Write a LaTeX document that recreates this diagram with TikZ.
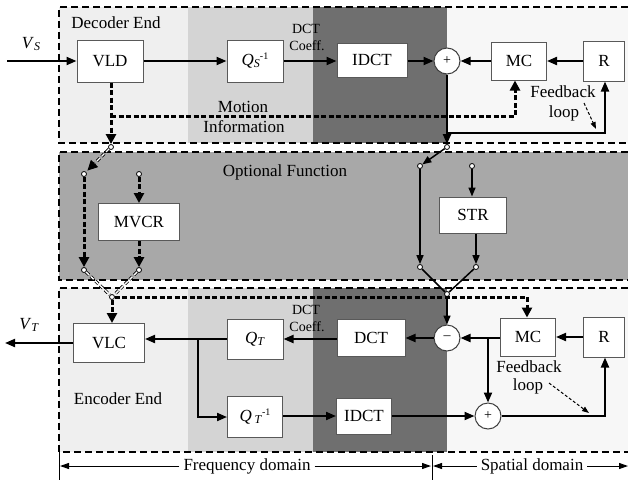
\documentclass[tikz,border=0pt]{standalone}
\usepackage{fontspec}
\setmainfont{Liberation Serif}
\usetikzlibrary{arrows.meta,calc}
\definecolor{cA}{HTML}{EFEFEF}
\definecolor{cB}{HTML}{D4D4D4}
\definecolor{cC}{HTML}{6F6F6F}
\definecolor{cD}{HTML}{F7F7F7}
\definecolor{cM}{HTML}{A8A8A8}
\newcommand{\bigf}{\fontsize{17}{19}\selectfont}
\newcommand{\smf}{\fontsize{12}{12}\selectfont}
\newcommand{\tinyf}{\fontsize{10}{10}\selectfont}
\begin{document}
\begin{tikzpicture}[x=1pt,y=-1pt,
  blk/.style={draw=black!65,fill=white,line width=1pt,inner sep=0pt,font=\bigf},
  sumc/.style={circle,draw=black!75,fill=white,line width=1pt,minimum size=26pt,inner sep=0pt,font=\fontsize{14}{14}\selectfont},
  pt/.style={circle,draw=black,fill=white,line width=0.8pt,minimum size=5pt,inner sep=0pt},
  lbl/.style={font=\bigf,inner sep=0pt},
  slbl/.style={font=\fontsize{14}{14}\selectfont,inner sep=0pt},
  sig/.style={line width=2pt,-{Triangle[length=10pt,width=8pt]}},
  msig/.style={line width=1.5pt,-{Triangle[length=9pt,width=7pt]}},
  msigl/.style={line width=1.5pt},
  mot/.style={line width=3pt,dash pattern=on 5pt off 2.5pt,-{Triangle[length=10pt,width=10pt]}},
  motd/.style={line width=0.8pt,double=white,double distance=1.4pt,dash pattern=on 4pt off 2.5pt},
  mottip/.style={line width=1pt,-{Triangle[length=10pt,width=10pt]},shorten >=2pt},
  boxd/.style={line width=1.5pt,dash pattern=on 7pt off 4pt},
  fbk/.style={line width=1pt,dash pattern=on 3pt off 2pt,-{Triangle[length=7pt,width=5pt]}},
  dom/.style={line width=1pt,-{Triangle[length=9pt,width=6pt]}}
]
\useasboundingbox (0,0) rectangle (628,480);
% backgrounds
\foreach \ya/\yb in {7/143,288/452}{
  \fill[cA] (59,\ya) rectangle (188,\yb);
  \fill[cB] (188,\ya) rectangle (313,\yb);
  \fill[cC] (313,\ya) rectangle (447,\yb);
  \fill[cD] (447,\ya) rectangle (628,\yb);
}
\fill[cM] (59,152) rectangle (628,280);
\draw[boxd] (628,7) -- (59,7) -- (59,143) -- (628,143);
\draw[boxd] (628,152) -- (59,152) -- (59,280) -- (628,280);
\draw[boxd] (628,288) -- (59,288) -- (59,452) -- (628,452);

% labels
\node[lbl] (dec) at (116,23) {Decoder End};
\node[lbl] (opt) at (285,172) {Optional Function};
\node[lbl] (enc) at (118,399) {Encoder End};
\node[lbl] (vs) at (31,44) {\textit{V}\raisebox{-2pt}{\smf\textit{S}}};
\node[lbl] (vt) at (29,325) {\textit{V}\raisebox{-2pt}{\smf\textit{T}}};
\node[slbl] (dc1a) at (306,29) {DCT};
\node[slbl] (dc1b) at (307,46) {Coeff.};
\node[slbl] (dc2a) at (306,310) {DCT};
\node[slbl] (dc2b) at (307,327) {Coeff.};
\node[lbl] (mo1) at (243,107) {Motion};
\node[lbl] (mo2) at (244,127) {Information};
\node[lbl] (fb1) at (563,92) {Feedback};
\node[lbl] (fb2) at (564,113) {loop};
\node[lbl] (fb3) at (529,367) {Feedback};
\node[lbl] (fb4) at (528,386) {loop};

% top row
\node[blk,minimum width=66pt,minimum height=42pt] (vld) at (110,61) {VLD};
\node[blk,minimum width=56pt,minimum height=42pt] (qsi) at (255,61) {\textit{Q}\raisebox{-1.5pt}{\smf\textit{S}}\raisebox{6pt}{\tinyf -1}};
\node[blk,minimum width=70pt,minimum height=34pt] (idct) at (372,60) {IDCT};
\node[sumc] (plus) at (447,61) {+};
\node[blk,minimum width=55pt,minimum height=38pt] (mc) at (519,61) {MC};
\node[blk,minimum width=41pt,minimum height=40pt] (r) at (604,61) {R};
\coordinate (vsin) at (7,61);
\draw[sig] (vsin) -- (vsin -| vld.west);
\draw[sig] (vld.east) -- (vld.east -| qsi.west);
\draw[sig] (qsi.east) -- (qsi.east -| idct.west);
\draw[sig] (idct.east |- plus.west) -- (plus.west);
\draw[sig] (mc.west |- plus.east) -- (plus.east);
\draw[sig] (r.west |- mc.east) -- (mc.east);
\coordinate (fbt) at (605,133);
\node[pt] (r0) at (447,147) {};
\draw[sig] (plus.south) -- (r0.north);
\draw[sig] (plus.south |- fbt) -- (fbt) -- (fbt |- r.south);
\draw[fbk] (584,103) -- (596,129);

% motion info top
\node[pt] (m0) at (111,147) {};
\coordinate (mi) at (515,116);
\draw[mot] (vld.south -| m0) -- (m0.north);
\draw[mot] (m0 |- mi) -- (mi) -- (mi |- mc.south);

% middle
\node[pt] (m1) at (84,174) {};
\node[pt] (m2) at (139,174) {};
\node[pt] (m3) at (84,270) {};
\node[pt] (m4) at (139,270) {};
\node[pt] (m5) at (112,297) {};
\node[blk,minimum width=81pt,minimum height=37pt] (mvcr) at (139,222) {MVCR};
\draw[motd] (m0) -- ($(m1)!9pt!(m0)$);
\draw[mottip] ($(m1)!12pt!(m0)$) -- (m1);
\draw[mot] (m1.south) -- (m3.north);
\draw[mot] (m2.south) -- (mvcr.north);
\draw[mot] (mvcr.south) -- (m4.north);
\draw[motd] (m3) -- (m5);
\draw[motd] (m4) -- (m5);

\node[pt] (r1) at (420,166) {};
\node[pt] (r2) at (472,166) {};
\node[pt] (r3) at (420,267) {};
\node[pt] (r4) at (476,267) {};
\node[pt] (r5) at (447,294) {};
\node[blk,minimum width=67pt,minimum height=36pt] (str) at (473,215) {STR};
\draw[msig] (r0) -- (r1);
\draw[msig] (r1.south) -- (r3.north);
\draw[msig] (r2.south) -- (r2 |- str.north);
\draw[msig] (r4 |- str.south) -- (r4.north);
\draw[msigl] (r3) -- (r5);
\draw[msigl] (r4) -- (r5);

% bottom row
\node[blk,minimum width=71pt,minimum height=39pt] (vlc) at (109,343) {VLC};
\node[blk,minimum width=56pt,minimum height=40pt] (qt) at (255,339) {\textit{Q}\raisebox{-2pt}{\smf\textit{T}}};
\node[blk,minimum width=68pt,minimum height=37pt] (dct) at (371,338) {DCT};
\node[sumc] (minus) at (447,338) {--};
\node[blk,minimum width=55pt,minimum height=38pt] (mc2) at (528,337) {MC};
\node[blk,minimum width=41pt,minimum height=40pt] (r2b) at (604,337) {R};
\node[blk,minimum width=55pt,minimum height=41pt] (qti) at (255,417) {\textit{Q}\,\raisebox{-2pt}{\smf\textit{T}}\raisebox{6pt}{\tinyf -1}};
\node[blk,minimum width=55pt,minimum height=36pt] (idct2) at (364,416) {IDCT};
\node[sumc] (plus2) at (488,416) {+};

\draw[mot] (m5.south) -- (m5 |- vlc.north);
\coordinate (mi2) at (527,297);
\draw[mot] (m5.east) -- (mi2) -- (mi2 |- mc2.north);

\draw[msig] (r5.south) -- (minus.north);
\draw[sig] (r2b.west) -- (r2b.west -| mc2.east);
\draw[sig] (mc2.west |- minus.east) -- (minus.east);
\draw[sig] (minus.east -| plus2) -- (plus2.north);
\draw[sig] (minus.west) -- (minus.west -| dct.east);
\draw[sig] (dct.west |- qt.east) -- (qt.east);
\draw[sig] (qt.west) -- (qt.west -| vlc.east);
\coordinate (brq) at (198,339);
\draw[sig] (brq) -- (brq |- qti.west) -- (qti.west);
\draw[sig] (qti.east |- idct2.west) -- (idct2.west);
\draw[sig] (idct2.east |- plus2.west) -- (plus2.west);
\coordinate (fbb) at (605,416);
\draw[sig] (plus2.east) -- (fbb) -- (fbb |- r2b.south);
\draw[fbk] (549,383) -- (589,413);
\coordinate (vtout) at (5,343);
\draw[sig] (vlc.west) -- (vtout);

% domains
\node[lbl] (fd) at (247,466) {Frequency domain};
\node[lbl] (sd) at (532,466) {Spatial domain};
\coordinate (t1) at (59,466);
\coordinate (t2) at (432,466);
\coordinate (t3) at (628,466);
\draw[line width=1pt] (59,452) -- (59,480);
\draw[line width=1pt] (432,455) -- (432,480);
\draw[dom] ([xshift=-4pt]fd.west) -- ([xshift=1pt]t1);
\draw[dom] ([xshift=4pt]fd.east) -- ([xshift=-1pt]t2);
\draw[dom] ([xshift=-4pt]sd.west) -- ([xshift=1pt]t2);
\draw[dom] ([xshift=4pt]sd.east) -- (t3);
\end{tikzpicture}
\end{document}
